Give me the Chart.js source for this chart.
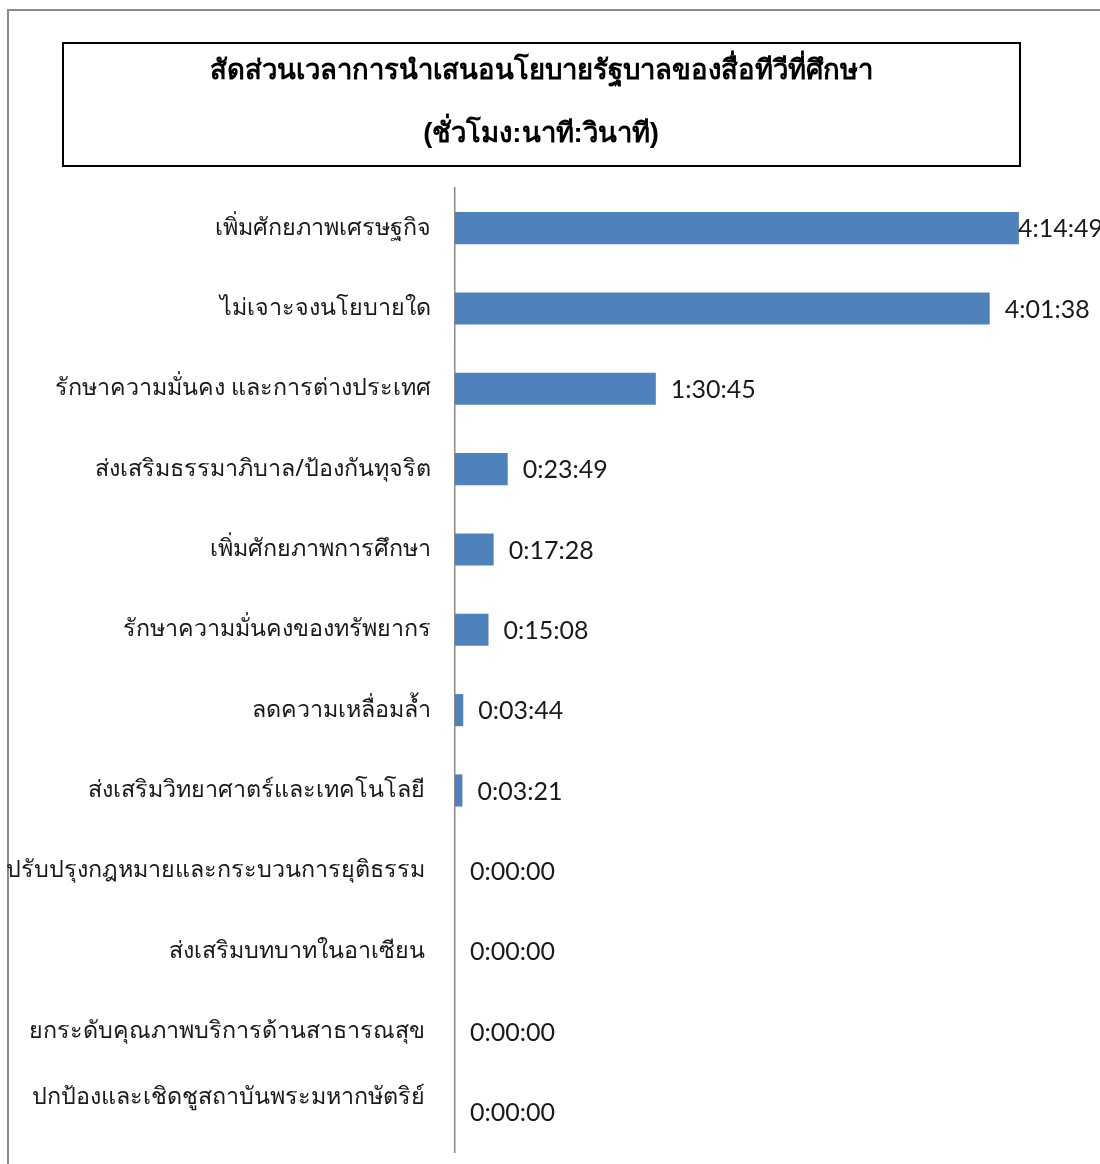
<!DOCTYPE html>
<html><head><meta charset="utf-8">
<script src="https://cdn.jsdelivr.net/npm/chart.js@4/dist/chart.umd.min.js"></script>
<style>html,body{margin:0;padding:0;background:#fff;}#wrap{width:1100px;height:1164px;position:relative;}</style>
</head><body><div id="wrap"><canvas id="c" width="1100" height="1164"></canvas></div>
<script>
const titleLines = ['สัดส่วนเวลาการนำเสนอนโยบายรัฐบาลของสื่อทีวีที่ศึกษา', '(ชั่วโมง:นาที:วินาที)'];
const categories = ['เพิ่มศักยภาพเศรษฐกิจ','ไม่เจาะจงนโยบายใด','รักษาความมั่นคง และการต่างประเทศ','ส่งเสริมธรรมาภิบาล/ป้องกันทุจริต','เพิ่มศักยภาพการศึกษา','รักษาความมั่นคงของทรัพยากร','ลดความเหลื่อมล้ำ','ส่งเสริมวิทยาศาตร์และเทคโนโลยี ','ปรับปรุงกฎหมายและกระบวนการยุติธรรม ','ส่งเสริมบทบาทในอาเซียน ','ยกระดับคุณภาพบริการด้านสาธารณสุข ','ปกป้องและเชิดชูสถาบันพระมหากษัตริย์ '];
const durations = ['4:14:49','4:01:38','1:30:45','0:23:49','0:17:28','0:15:08','0:03:44','0:03:21','0:00:00','0:00:00','0:00:00','0:00:00'];
const seconds = durations.map(d => { const p = d.split(':').map(Number); return p[0]*3600 + p[1]*60 + p[2]; });

const frame = {
  id: 'frame',
  beforeDraw(chart) {
    const c = chart.ctx;
    c.save();
    c.fillStyle = '#fff'; c.fillRect(0,0,chart.width,chart.height);
    c.strokeStyle = '#8a8a8a'; c.lineWidth = 2;
    c.beginPath(); c.moveTo(8, chart.height); c.lineTo(8, 10); c.lineTo(chart.width, 10); c.stroke();
    c.strokeStyle = '#000'; c.lineWidth = 2;
    c.strokeRect(63, 43, 957, 123);
    c.restore();
  }
};
const valueLabels = {
  id: 'valueLabels',
  afterDatasetsDraw(chart) {
    const c = chart.ctx; const meta = chart.getDatasetMeta(0);
    const maxV = Math.max(...seconds);
    c.save();
    c.font = '25px Lato, "Open Sans", sans-serif';
    c.fillStyle = '#1a1a1a'; c.textBaseline = 'middle'; c.textAlign = 'left';
    meta.data.forEach((bar, i) => {
      const off = seconds[i] === maxV ? -1 : 15;
      c.fillText(durations[i], bar.x + off, bar.y + 1);
    });
    c.restore();
  }
};

const tickLabels = categories.map((t, i) => i === categories.length - 1 ? [t, ''] : t);

new Chart(document.getElementById('c'), {
  type: 'bar',
  data: { labels: tickLabels, datasets: [{ data: seconds, backgroundColor: '#4F81BD', borderWidth: 0, barPercentage: 0.4, categoryPercentage: 1 }] },
  options: {
    indexAxis: 'y', responsive: false, animation: false,
    layout: { padding: { top: 0, right: 18, bottom: 12, left: 0 } },
    plugins: {
      legend: { display: false }, tooltip: { enabled: false },
      title: { display: true, text: titleLines, color: '#000',
        font: { family: '"Liberation Sans Narrow", "Liberation Sans", sans-serif', size: 27.5, weight: 'bold', lineHeight: 2.29 },
        padding: { top: 40, bottom: 22 } }
    },
    scales: {
      x: { display: false, min: 0, max: 17000 },
      y: { grid: { display: false }, border: { display: true, color: '#8a8a8a', width: 1.5 },
        ticks: { color: '#1a1a1a', padding: 16, font: { family: '"Noto Sans", "DejaVu Sans", sans-serif', size: 23.3 } },
        afterFit(s) { s.width = 455; s.paddingTop = 0; s.paddingBottom = 0; } }
    }
  },
  plugins: [frame, valueLabels]
});
</script></body></html>
